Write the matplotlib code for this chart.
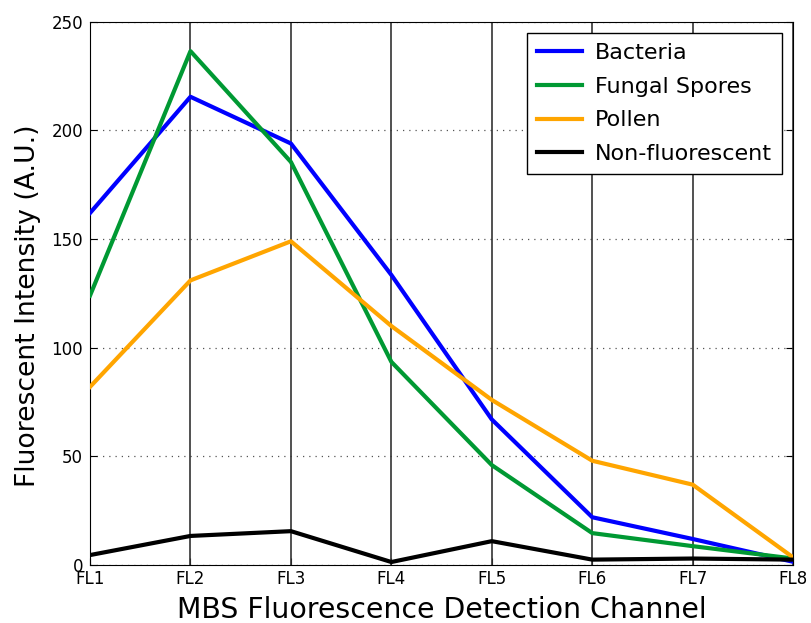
import matplotlib
matplotlib.use("Agg")
import matplotlib.pyplot as plt

channels = ["FL1", "FL2", "FL3", "FL4", "FL5", "FL6", "FL7", "FL8"]
bacteria = [162, 215.5, 194, 133.5, 67, 22, 12, 1.5]
fungal = [124, 236.5, 185.5, 93.5, 46, 14.7, 8.7, 3]
pollen = [82, 131, 149, 110, 76, 48, 37, 3.5]
nonfluor = [4.6, 13.4, 15.6, 1.4, 11, 2.5, 3, 2.5]
yticks = [0, 50, 100, 150, 200, 250]

fig = plt.figure(figsize=(8.11, 6.23), dpi=100)
ax = fig.add_axes([0.111, 0.093, 0.867, 0.872])
x = list(range(len(channels)))

for xi in x:
    ax.axvline(xi, color="#333333", lw=1.2, zorder=1)
ax.yaxis.grid(True, linestyle=(0, (1, 4)), color="#555555", lw=0.9)
ax.set_axisbelow(True)

ax.plot(x, bacteria, color="#0000ff", lw=3, label="Bacteria", zorder=3)
ax.plot(x, fungal, color="#009933", lw=3, label="Fungal Spores", zorder=3)
ax.plot(x, pollen, color="#ffa500", lw=3, label="Pollen", zorder=3)
ax.plot(x, nonfluor, color="black", lw=3, label="Non-fluorescent", zorder=3)

ax.set_xlim(0, 7)
ax.set_ylim(0, 250)
ax.set_xticks(x)
ax.set_xticklabels(channels)
ax.set_yticks(yticks)
ax.tick_params(direction="in", labelsize=12, length=5)
ax.tick_params(axis="y", right=True, pad=5)
ax.set_xlabel("MBS Fluorescence Detection Channel", fontsize=20.4, labelpad=6)
ax.set_ylabel("Fluorescent Intensity (A.U.)", fontsize=19.2)
ax.yaxis.set_label_coords(-0.07, 0.477)
for s in ax.spines.values():
    s.set_color("black")

leg = ax.legend(loc="upper right", fontsize=16, fancybox=False, edgecolor="black",
                framealpha=1, handlelength=2.0, handletextpad=0.6, borderpad=0.45,
                labelspacing=0.62)
leg.get_frame().set_linewidth(1.0)

fig.savefig("out.png", dpi=100)
